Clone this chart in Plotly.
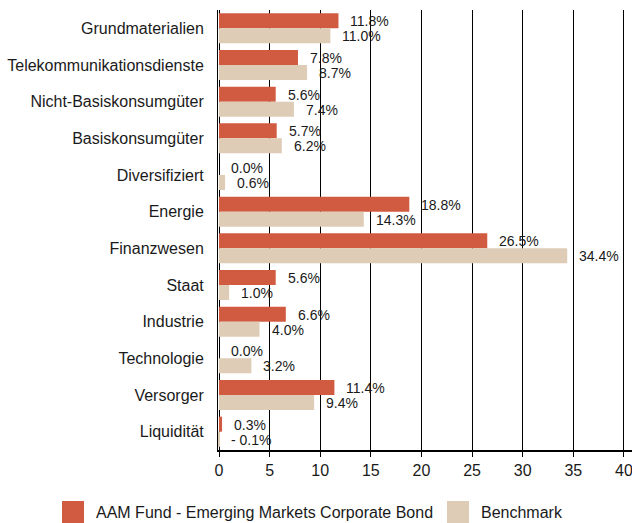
import plotly.graph_objects as go

categories = ["Grundmaterialien", "Telekommunikationsdienste", "Nicht-Basiskonsumgüter",
              "Basiskonsumgüter", "Diversifiziert", "Energie", "Finanzwesen", "Staat",
              "Industrie", "Technologie", "Versorger", "Liquidität"]
fund_values = [11.8, 7.8, 5.6, 5.7, 0.0, 18.8, 26.5, 5.6, 6.6, 0.0, 11.4, 0.3]
bench_values = [11.0, 8.7, 7.4, 6.2, 0.6, 14.3, 34.4, 1.0, 4.0, 3.2, 9.4, -0.1]
fund_name = "AAM Fund - Emerging Markets Corporate Bond"
bench_name = "Benchmark"
x_ticks = [0, 5, 10, 15, 20, 25, 30, 35, 40]

RED = "#D15B40"
BEIGE = "#DECCB6"
FONT = "Liberation Sans, Arial, sans-serif"
TXT = "#1a1a1a"

W, H = 632, 523
L, R, T, B = 218, 0, 10, 73
PW, PH = W - L - R, H - T - B

def px_x(p):
    return (p - L) / PW

def px_y(p):
    return (H - B - p) / PH

def fmt(v):
    return f"- {abs(v):.1f}%" if v < 0 else f"{v:.1f}%"

fig = go.Figure()
fig.add_trace(go.Bar(y=categories, x=fund_values, orientation="h", name=fund_name,
                     marker=dict(color=RED, line=dict(width=0)), showlegend=False))
fig.add_trace(go.Bar(y=categories, x=bench_values, orientation="h", name=bench_name,
                     marker=dict(color=BEIGE, line=dict(width=0)), showlegend=False))

annotations = []
for c, v in zip(categories, fund_values):
    annotations.append(dict(x=max(v, 0), y=c, xref="x", yref="y", text=fmt(v), showarrow=False,
                            xanchor="left", yanchor="middle", xshift=10, yshift=7,
                            font=dict(family=FONT, size=14, color=TXT)))
for c, v in zip(categories, bench_values):
    annotations.append(dict(x=max(v, 0), y=c, xref="x", yref="y", text=fmt(v), showarrow=False,
                            xanchor="left", yanchor="middle", xshift=10, yshift=-8,
                            font=dict(family=FONT, size=14, color=TXT)))

# custom legend
shapes = []
legend_items = [(62, RED, fund_name), (447, BEIGE, bench_name)]
for x0, col, name in legend_items:
    shapes.append(dict(type="rect", xref="paper", yref="paper",
                       x0=px_x(x0), x1=px_x(x0 + 22), y0=px_y(523), y1=px_y(501),
                       fillcolor=col, line=dict(width=0), layer="above"))
    annotations.append(dict(x=px_x(x0 + 32), y=px_y(512), xref="paper", yref="paper",
                            text=name, showarrow=False, xanchor="left", yanchor="middle",
                            font=dict(family=FONT, size=16, color=TXT)))

fig.update_layout(
    width=W, height=H,
    margin=dict(l=L, r=R, t=T, b=B, pad=0, autoexpand=False),
    paper_bgcolor="white", plot_bgcolor="white",
    barmode="group", bargap=0.18, bargroupgap=0,
    font=dict(family=FONT, size=16, color=TXT),
    shapes=shapes, annotations=annotations,
    xaxis=dict(range=[-0.1, 40.8], tickvals=x_ticks, ticktext=[str(t) for t in x_ticks],
               automargin=False, ticklabeloverflow="allow",
               showgrid=True, gridcolor="black", gridwidth=1, zeroline=False,
               showline=True, linecolor="black", linewidth=2,
               ticks="outside", ticklen=5, tickcolor="black",
               tickfont=dict(family=FONT, size=16, color=TXT)),
    yaxis=dict(categoryorder="array", categoryarray=categories, autorange="reversed",
               automargin=False,
               showgrid=False, zeroline=False, showline=True, linecolor="black", linewidth=1,
               ticks="", ticklabelstandoff=10,
               tickfont=dict(family=FONT, size=16, color=TXT)),
)

fig.write_html("out.html", config={"displayModeBar": False},
               post_script="document.body.style.margin='0';document.body.style.overflow='hidden';")
